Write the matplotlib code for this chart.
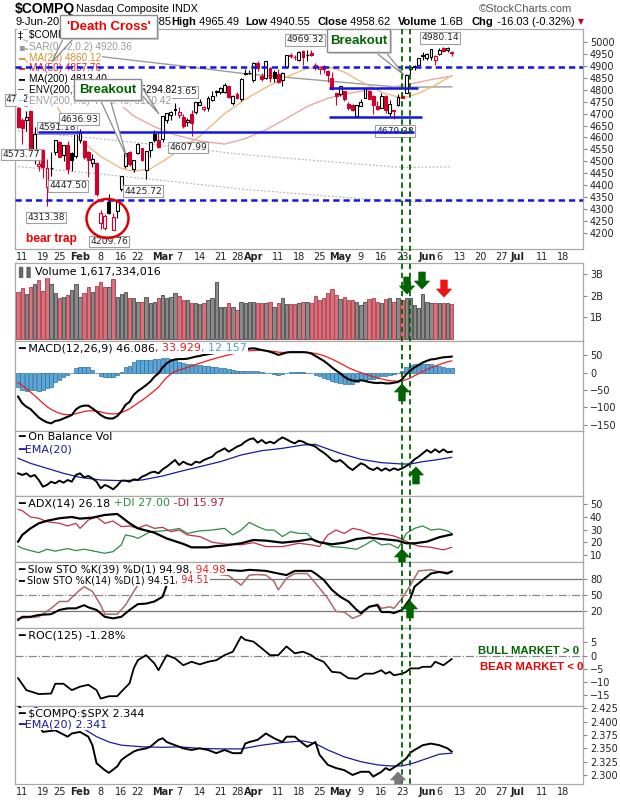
import numpy as np
import pandas as pd
import matplotlib
matplotlib.use("Agg")
import matplotlib.pyplot as plt
from matplotlib.patches import Ellipse, Polygon, Rectangle
from matplotlib.lines import Line2D
from matplotlib.transforms import Affine2D

# ---------------- DATA ----------------
start_date = "2016-01-08"
end_date = "2016-06-09"
axis_end_date = "2016-07-22"
holidays = ["2016-01-18", "2016-02-15", "2016-03-25", "2016-05-30"]

tick_dates = ["2016-01-11", "2016-01-19", "2016-01-25", "2016-02-01", "2016-02-08", "2016-02-16",
              "2016-02-22", "2016-03-01", "2016-03-07", "2016-03-14", "2016-03-21", "2016-03-28",
              "2016-04-01", "2016-04-11", "2016-04-18", "2016-04-25", "2016-05-02", "2016-05-09",
              "2016-05-16", "2016-05-23", "2016-06-01", "2016-06-06", "2016-06-13", "2016-06-20",
              "2016-06-27", "2016-07-01", "2016-07-11", "2016-07-18"]
tick_labels = ["11", "19", "25", "Feb", "8", "16", "22", "Mar", "7", "14", "21", "28", "Apr", "11",
               "18", "25", "May", "9", "16", "23", "Jun", "6", "13", "20", "27", "Jul", "11", "18"]
month_names = ["Feb", "Mar", "Apr", "May", "Jun", "Jul"]

prev_close = 4689.43
opens = [4722.0, 4673.4, 4673.0, 4713.0, 4530.0, 4480.0, 4548.0, 4390.0, 4470.0, 4540.0,
         4580.0, 4527.0, 4567.0, 4535.0, 4524.0, 4590.0, 4585.0, 4540.0, 4492.0, 4493.0,
         4240.0, 4220.0, 4330.0, 4212.0, 4290.0, 4384.0, 4480.0, 4540.0, 4466.0, 4535.0,
         4555.0, 4465.0, 4549.0, 4615.0, 4588.0, 4592.0, 4674.0, 4694.0, 4719.0, 4695.0,
         4686.0, 4663.0, 4698.0, 4705.0, 4738.0, 4720.0, 4723.0, 4758.0, 4790.0, 4791.0,
         4792.0, 4815.0, 4745.0, 4781.0, 4760.0, 4868.0, 4870.0, 4842.0, 4915.0, 4860.0,
         4852.0, 4894.0, 4876.0, 4868.0, 4842.0, 4896.0, 4944.0, 4939.0, 4927.0, 4965.0,
         4946.0, 4954.0, 4895.0, 4889.0, 4902.0, 4880.0, 4850.0, 4785.0, 4783.0, 4795.0,
         4741.0, 4738.0, 4690.0, 4733.0, 4767.0, 4797.0, 4776.0, 4732.0, 4724.0, 4773.0,
         4704.0, 4714.0, 4735.0, 4774.0, 4788.0, 4887.0, 4897.0, 4906.0, 4943.0, 4932.0,
         4940.0, 4925.0, 4951.0, 4976.0, 4969.0, 4955.85]
highs = [4742.6, 4683.0, 4710.0, 4716.0, 4642.0, 4510.0, 4551.0, 4509.0, 4538.0, 4591.18,
         4586.0, 4570.0, 4584.0, 4540.0, 4614.0, 4636.93, 4590.0, 4541.0, 4531.0, 4496.0,
         4293.0, 4280.0, 4364.0, 4282.0, 4340.0, 4436.0, 4535.0, 4545.0, 4505.0, 4575.0,
         4557.0, 4545.0, 4582.5, 4630.0, 4623.0, 4689.6, 4704.0, 4710.0, 4743.0, 4727.0,
         4700.0, 4680.0, 4717.0, 4748.5, 4760.0, 4734.0, 4775.0, 4795.0, 4801.0, 4812.0,
         4831.0, 4816.0, 4779.0, 4790.0, 4849.0, 4886.0, 4882.0, 4916.0, 4920.0, 4872.0,
         4921.0, 4897.0, 4885.0, 4886.0, 4876.0, 4948.0, 4955.0, 4946.0, 4962.0, 4966.0,
         4969.32, 4966.0, 4913.0, 4900.0, 4904.0, 4883.0, 4874.0, 4789.0, 4818.0, 4796.0,
         4750.0, 4739.0, 4736.5, 4763.0, 4810.0, 4798.0, 4777.0, 4754.0, 4787.0, 4777.0,
         4756.0, 4714.0, 4781.0, 4791.0, 4866.0, 4902.0, 4903.0, 4934.0, 4958.0, 4956.0,
         4971.5, 4945.0, 4976.0, 4979.0, 4980.14, 4965.49]
lows = [4637.9, 4573.77, 4628.0, 4513.0, 4490.0, 4460.0, 4430.0, 4313.38, 4436.0, 4525.0,
        4517.0, 4500.0, 4447.5, 4460.0, 4512.0, 4578.0, 4510.0, 4434.0, 4476.0, 4352.0,
        4213.8, 4212.0, 4277.0, 4209.76, 4260.0, 4374.0, 4470.0, 4481.0, 4456.0, 4530.0,
        4500.0, 4425.72, 4516.0, 4579.0, 4557.0, 4579.0, 4661.0, 4675.0, 4693.0, 4683.0,
        4638.0, 4648.0, 4607.99, 4700.0, 4735.0, 4710.0, 4711.0, 4753.0, 4776.0, 4784.0,
        4787.0, 4767.0, 4735.0, 4762.0, 4755.0, 4861.0, 4866.0, 4833.0, 4880.0, 4839.0,
        4845.0, 4835.0, 4835.0, 4831.0, 4818.0, 4894.0, 4936.0, 4926.0, 4922.0, 4904.0,
        4921.0, 4941.0, 4885.0, 4867.0, 4872.0, 4834.0, 4798.0, 4738.0, 4776.0, 4752.0,
        4715.0, 4711.0, 4684.0, 4732.0, 4764.0, 4760.0, 4700.0, 4714.0, 4724.0, 4703.0,
        4692.0, 4679.38, 4733.0, 4765.0, 4786.0, 4868.0, 4885.0, 4905.0, 4925.0, 4925.0,
        4925.0, 4905.0, 4948.0, 4958.0, 4959.0, 4940.55]
closes = [4643.63, 4637.99, 4685.92, 4526.06, 4615.00, 4488.42, 4476.95, 4471.69, 4472.06, 4591.18,
          4518.49, 4567.67, 4468.17, 4506.68, 4613.95, 4620.37, 4516.95, 4504.24, 4509.56, 4363.14,
          4283.59, 4268.76, 4283.75, 4266.84, 4337.51, 4435.96, 4534.06, 4487.54, 4504.43, 4570.61,
          4503.58, 4542.61, 4582.20, 4590.47, 4557.95, 4689.60, 4703.42, 4707.42, 4717.02, 4708.25,
          4648.82, 4674.38, 4662.16, 4748.47, 4750.28, 4728.67, 4763.97, 4774.99, 4795.65, 4808.87,
          4821.66, 4768.86, 4773.50, 4766.79, 4846.62, 4869.29, 4869.85, 4914.54, 4891.80, 4843.93,
          4920.72, 4848.37, 4850.69, 4833.40, 4872.09, 4947.42, 4945.89, 4938.22, 4960.02, 4940.33,
          4948.13, 4945.89, 4906.23, 4895.79, 4888.28, 4863.14, 4805.29, 4775.36, 4817.59, 4763.22,
          4725.64, 4717.09, 4736.16, 4750.21, 4809.88, 4760.69, 4737.33, 4717.68, 4775.46, 4715.73,
          4739.12, 4712.53, 4769.56, 4765.78, 4861.06, 4894.89, 4901.77, 4933.51, 4948.05, 4952.25,
          4971.36, 4942.52, 4968.71, 4961.75, 4974.64, 4958.62]

volume_bn = [2.18, 2.33, 2.07, 2.41, 2.53, 2.72, 2.21, 2.90, 2.53, 2.10,
             1.90, 1.95, 2.03, 2.26, 2.53, 1.92, 2.10, 2.41, 2.15, 2.44,
             2.64, 2.38, 2.38, 2.76, 1.92, 2.07, 2.18, 1.87, 1.87, 1.70,
             1.72, 1.95, 1.64, 1.72, 1.90, 2.03, 1.87, 1.92, 2.10, 1.98,
             1.80, 1.80, 1.64, 1.64, 1.60, 1.64, 1.80, 1.87, 2.64, 1.49,
             1.49, 1.64, 1.49, 1.34, 1.72, 1.67, 1.72, 1.72, 1.64, 1.64,
             1.67, 1.72, 1.49, 1.67, 1.87, 1.61, 1.61, 1.61, 1.64, 1.72,
             1.69, 1.64, 1.98, 1.80, 1.87, 2.10, 2.29, 2.03, 1.83, 1.92,
             1.80, 1.80, 1.72, 1.57, 1.72, 1.83, 1.89, 1.72, 1.64, 1.83,
             1.87, 1.72, 1.87, 1.80, 1.87, 1.87, 1.57, 1.41, 2.07, 1.72,
             1.64, 1.64, 1.67, 1.67, 1.64, 1.62]

ma20_idx = [0, 5, 10, 15, 20, 25, 28, 32, 36, 40, 44, 50, 55, 60, 65, 70, 73, 76, 79, 83, 88, 93, 97, 101, 105]
ma20_val = [4963, 4860, 4713, 4590, 4520, 4470, 4458, 4468, 4510, 4560, 4605, 4700, 4760, 4810, 4855,
            4890, 4897, 4892, 4875, 4835, 4790, 4765, 4785, 4820, 4860]
ma50_idx = [0, 5, 10, 15, 19, 24, 28, 33, 38, 44, 50, 55, 60, 65, 70, 75, 80, 85, 90, 95, 100, 105]
ma50_val = [5020, 4985, 4935, 4870, 4818, 4750, 4690, 4645, 4611, 4585, 4572, 4595, 4632, 4680, 4730,
            4765, 4785, 4800, 4810, 4825, 4843, 4858]
ma200_idx = [0, 20, 40, 54, 70, 85, 93, 105]
ma200_val = [4975, 4940, 4900, 4870, 4845, 4822, 4811, 4813]
env_pcts = [7.0, 10.0]

macd_line = [-69, -88, -98, -105, -117, -129, -137, -143, -146, -139,
             -137, -132, -127, -122, -106, -98, -95, -95, -103, -112,
             -122, -129, -132, -132, -125, -112, -93, -84, -64, -53,
             -45, -36, -26, -12, -2, 15, 27, 34, 38, 39,
             39, 40, 43, 46, 48, 51, 53, 55, 57, 59,
             60, 61, 62, 63, 65, 67, 69, 70, 68, 65,
             63, 60, 56, 51, 54, 58, 59, 59, 59, 59,
             58, 55, 48, 41, 34, 25, 15, 6, -2, -12,
             -19, -23, -24, -22, -24, -27, -29, -30, -29, -31,
             -31, -29, -27, -19, -5, 6, 15, 22, 29, 34,
             38, 39, 42, 44, 45, 46.09]
macd_signal = [-29, -37, -46, -56, -66, -77, -88, -98, -106, -112,
               -117, -120, -121, -121, -118, -115, -112, -110, -110, -111,
               -113, -116, -118, -119, -118, -115, -110, -104, -96, -88,
               -80, -71, -62, -52, -42, -27, -14, -4, 3, 8,
               11, 15, 19, 23, 27, 31, 35, 38, 42, 45,
               48, 51, 54, 57, 59, 61, 63, 64, 64, 64,
               63, 62, 61, 59, 58, 58, 58, 58, 58, 58,
               58, 57, 55, 52, 49, 44, 39, 33, 27, 21,
               14, 9, 4, 0, -4, -8, -12, -15, -18, -21,
               -23, -24, -25, -24, -20, -15, -9, -3, 3, 9,
               14, 19, 23, 27, 31, 33.93]

obv = [40, 35, 40, 30, 35, 20, 0, 5, 15, 10,
       18, 12, 20, 15, 35, 40, 28, 32, 25, 15,
       -5, 5, 0, -8, 3, 18, 18, 15, 22, 20,
       30, 35, 42, 45, 40, 52, 60, 70, 80, 65,
       75, 68, 65, 75, 72, 80, 85, 90, 102, 108,
       115, 105, 112, 120, 125, 135, 142, 145, 132, 140,
       130, 135, 130, 140, 148, 142, 135, 130, 138, 135,
       128, 125, 120, 110, 102, 92, 80, 75, 80, 70,
       58, 50, 60, 70, 65, 55, 50, 57, 48, 55,
       48, 55, 50, 55, 62, 70, 82, 90, 100, 110,
       102, 112, 103, 112, 103, 105]
obv_ema_idx = [0, 3, 7, 11, 15, 20, 25, 30, 35, 39, 44, 49, 54, 59, 64, 69, 72, 73, 78, 83, 88, 93, 95, 98, 101, 105]
obv_ema_val = [85, 70, 55, 40, 28, 20, 18, 20, 32, 45, 60, 75, 95, 108, 115, 125, 127, 122, 100, 82, 72, 68, 68, 75, 80, 88]

adx_idx = [0, 1, 3, 5, 7, 10, 13, 15, 18, 21, 24, 25, 27, 29, 33, 36, 40, 42, 46, 48, 50, 54, 57, 60, 64,
           68, 71, 73, 76, 79, 82, 85, 88, 92, 94, 96, 99, 102, 105]
adx_val = [20.5, 25.8, 31.0, 35.0, 37.0, 39.0, 40.0, 38.7, 39.5, 41.6, 42.4, 40.0, 35.0, 31.0, 27.6, 23.0,
           18.7, 16.0, 16.0, 17.0, 17.4, 19.2, 21.8, 21.3, 19.7, 21.0, 22.6, 20.0, 18.4, 19.7, 22.6, 23.7,
           22.6, 21.3, 19.2, 19.2, 20.5, 24.0, 26.2]
pdi_idx = [0, 1, 3, 5, 7, 9, 12, 14, 16, 19, 21, 23, 25, 26, 28, 29, 32, 35, 37, 39, 41, 44, 47, 50, 52, 54,
           56, 58, 60, 62, 64, 66, 68, 70, 72, 74, 76, 79, 82, 84, 86, 88, 90, 92, 93, 94, 96, 98, 100, 102,
           104, 105]
pdi_val = [17, 15.3, 13.4, 11.8, 14.5, 13, 15, 13.4, 14.5, 12.6, 11.3, 12.6, 18, 25.8, 24.5, 23, 28.4, 29,
           29.7, 31, 27, 29, 29.7, 31, 25.8, 29.7, 35.8, 32.4, 29.7, 29.7, 24.5, 28.4, 27, 27, 20.5, 19.2,
           16.6, 15.8, 14.5, 17.9, 21.8, 17.9, 18.7, 15.3, 20.5, 27, 31, 32.9, 29.7, 30.5, 29, 27.0]
mdi_idx = [0, 1, 3, 5, 7, 10, 12, 14, 15, 17, 19, 21, 23, 25, 27, 29, 31, 33, 35, 37, 39, 41, 44, 47, 50,
           54, 57, 60, 64, 68, 71, 73, 75, 77, 79, 81, 83, 86, 88, 91, 93, 95, 97, 100, 103, 105]
mdi_val = [46, 45, 40, 39, 36.3, 35, 32.9, 35, 31, 37.6, 40, 35, 36.8, 32.4, 32.9, 31, 33.7, 31, 31.8,
           28.4, 29.7, 25.8, 24.5, 20, 18.7, 18, 19.7, 16.6, 16.6, 19.2, 18, 16.6, 25.8, 29.7, 27, 31,
           29.7, 25.8, 27, 25, 22.4, 19.2, 17, 16, 14, 16.0]

sto39_idx = [0, 1, 3, 5, 8, 10, 12, 14, 16, 17, 19, 21, 23, 25, 27, 29, 31, 33, 35, 36, 38, 41, 44, 47,
             50, 54, 56, 60, 63, 65, 67, 71, 72, 74, 76, 78, 80, 82, 83, 85, 87, 88, 90, 91, 93, 95, 96,
             98, 100, 102, 104, 105]
sto39_val = [3, 9, 9, 12.5, 14, 22, 25, 25, 31, 27, 22, 9, 6, 9, 22, 33, 34, 38, 47, 69, 85, 92, 96, 97,
             98, 96, 98, 96, 91, 88, 96, 96, 91, 79, 60, 47, 38, 22, 16, 28, 31, 18, 18, 16, 22, 44, 66,
             79, 91, 94, 91, 95.0]
sto14_idx = [0, 5, 8, 10, 12, 15, 16, 18, 20, 21, 24, 26, 28, 29, 32, 35, 39, 44, 48, 51, 54, 56, 58, 60,
             62, 63, 65, 67, 70, 71, 73, 75, 77, 79, 81, 83, 85, 87, 88, 90, 91, 93, 95, 97, 100, 102, 104, 105]
sto14_val = [6, 9, 25, 38, 38, 60, 66, 57, 31, 14, 14, 31, 57, 69, 80, 90, 88, 92, 90, 87, 69, 88, 89, 88,
             76, 60, 82, 91, 91, 82, 63, 44, 19, 18, 6, 12.5, 28, 33, 25, 28, 25, 44, 69, 96, 98, 94, 93, 94.5]

roc_idx = [0, 2, 5, 8, 9, 11, 13, 15, 17, 19, 20, 22, 24, 25, 27, 28, 29, 31, 33, 34, 36, 38, 40, 42, 44,
           46, 48, 50, 52, 54, 55, 57, 59, 61, 63, 65, 67, 69, 71, 72, 74, 76, 78, 80, 82, 84, 86, 88, 89,
           90, 91, 93, 94, 95, 97, 98, 100, 101, 103, 105]
roc_val = [-8.5, -13, -14.5, -14.3, -10.6, -10.6, -13, -11.7, -11, -13, -16.2, -15.3, -15.3, -13.6, -10.4,
           -4.8, -1.7, 0.2, -2.9, -5.5, 0.2, -1, -3.6, -2.3, -3.3, -2.3, -1.7, 0.2, 1.5, 7.2, 6, 5.3, 2.8,
           0.2, 0.2, 3.5, 0.9, 1.5, 0.2, -1, -2.3, -6.1, -6.4, -8.5, -8.7, -6.8, -6.8, -5.5, -6.8, -6.1,
           -7.4, -6.8, -6.1, -4.8, -4.8, -4.2, -4.2, -2.3, -3.6, -1.28]

ratio_idx = [0, 1, 3, 5, 6, 9, 12, 13, 15, 17, 18, 19, 21, 22, 24, 25, 26, 28, 29, 31, 32, 34, 35, 36, 38,
             40, 42, 44, 46, 48, 50, 52, 54, 55, 56, 58, 60, 62, 64, 65, 67, 69, 70, 72, 73, 75, 77, 79, 81,
             83, 85, 86, 88, 89, 90, 92, 93, 94, 95, 96, 98, 100, 102, 104, 105]
ratio_val = [2.431, 2.422, 2.416, 2.394, 2.381, 2.384, 2.372, 2.378, 2.381, 2.372, 2.356, 2.322, 2.309,
             2.304, 2.316, 2.328, 2.334, 2.344, 2.347, 2.350, 2.353, 2.366, 2.369, 2.362, 2.356, 2.350,
             2.347, 2.350, 2.347, 2.341, 2.347, 2.341, 2.341, 2.359, 2.362, 2.366, 2.378, 2.369, 2.362,
             2.372, 2.372, 2.359, 2.353, 2.362, 2.338, 2.319, 2.313, 2.309, 2.300, 2.306, 2.306, 2.297,
             2.306, 2.313, 2.309, 2.319, 2.325, 2.331, 2.342, 2.347, 2.356, 2.359, 2.356, 2.350, 2.344]
ratio_ema_idx = [0, 3, 10, 15, 19, 22, 25, 30, 35, 39, 44, 49, 54, 59, 64, 69, 72, 75, 79, 83, 87, 90, 93,
                 96, 99, 102, 105]
ratio_ema_val = [2.436, 2.431, 2.409, 2.391, 2.372, 2.362, 2.356, 2.353, 2.352, 2.353, 2.350, 2.349, 2.349,
                 2.356, 2.361, 2.364, 2.359, 2.347, 2.334, 2.325, 2.319, 2.317, 2.317, 2.323, 2.331, 2.339,
                 2.341]

dashed_levels = [4897, 4337]
support_lines = [(4622, 4.8, 95.9), (4807, 75.3, 96.8), (4686, 75.3, 97.8)]
signal_days = [93.05, 94.8]

# ---------------- FIGURE ----------------
W, H = 620.0, 800.0
fig = plt.figure(figsize=(6.2, 8.0), dpi=100)
fig.patch.set_facecolor("white")
PX = Affine2D().scale(1 / W, -1 / H).translate(0, 1) + fig.transFigure
REND = fig.canvas.get_renderer()

hol = pd.to_datetime(holidays)
tdays = pd.bdate_range(start_date, end_date)
tdays = tdays[~tdays.isin(hol)]
fdays = pd.bdate_range(pd.Timestamp(end_date) + pd.Timedelta(days=1), axis_end_date)
all_days = tdays.append(fdays)
n = len(tdays)
x = np.arange(n)
tick_pos = [all_days.get_loc(pd.Timestamp(d)) for d in tick_dates]
XLIM = (-0.75, 136.8)

L, R = 15, 583
SP = "#a8a8a8"
RED = "#d4002c"
HF = ["Liberation Sans", "DejaVu Sans"]
NF = ["Liberation Sans Narrow", "Liberation Sans", "DejaVu Sans"]


def panel(top, bottom, yl, yt=None, ytl=None):
    ax = fig.add_axes([L / W, 1 - bottom / H, (R - L) / W, (bottom - top) / H])
    ax.set_xlim(*XLIM)
    ax.set_ylim(*yl)
    for s in ax.spines.values():
        s.set_color(SP)
        s.set_linewidth(0.9)
    ax.yaxis.tick_right()
    ax.tick_params(axis="y", labelsize=7, length=3, color="#888", labelcolor="#222", pad=2)
    ax.tick_params(axis="x", length=0, labelbottom=False)
    if yt is None:
        ax.set_yticks([])
    else:
        ax.set_yticks(yt)
        if ytl is not None:
            ax.set_yticklabels(ytl)
    return ax


def xlabels(ax):
    ax.set_xticks(tick_pos)
    ax.set_xticklabels(tick_labels)
    ax.tick_params(axis="x", labelbottom=True, labelsize=7, pad=2, labelcolor="#222")
    for t in ax.get_xticklabels():
        if t.get_text() in month_names:
            t.set_fontweight("bold")


def seg_text(ax, x0, y, parts, size=8.0, family="DejaVu Sans", z=6, bg=True):
    xx = x0
    for s, c, w in parts:
        kw = dict(bbox=dict(boxstyle="square,pad=0.06", fc="white", ec="none")) if bg else {}
        t = ax.text(xx, y, s, transform=PX, color=c, fontsize=size, fontweight=w, family=family,
                    va="center", ha="left", clip_on=False, zorder=z, **kw)
        xx = t.get_window_extent(renderer=REND).x1
    return xx


def main_leg(y, icon, s, color):
    axm.text(18, y, icon, transform=PX, color=color, fontsize=7, family="DejaVu Sans", va="center",
             ha="left", clip_on=False, zorder=6,
             bbox=dict(boxstyle="square,pad=0.06", fc="white", ec="none"))
    axm.text(29, y, s, transform=PX, color=color, fontsize=7.2, family=HF, va="center", ha="left",
             clip_on=False, zorder=6, bbox=dict(boxstyle="square,pad=0.08", fc="white", ec="none"))


# ---------- main price panel ----------
axm = panel(29, 249, (4131, 5056), np.arange(4200, 5001, 50))
xlabels(axm)
ma200 = np.array(ma200_val, float)
for p in env_pcts:
    axm.plot(ma200_idx, ma200 * (1 - p / 100), color="#b8b8b8", lw=0.9, ls=(0, (1.5, 1.5)), zorder=2)
axm.plot(ma200_idx, ma200_val, color="#9c9c9c", lw=1.0, zorder=2)
axm.plot(ma50_idx, ma50_val, color="#e8a8a8", lw=1.0, zorder=2)
axm.plot(ma20_idx, ma20_val, color="#ebbb82", lw=1.0, zorder=2)

o = np.array(opens); c = np.array(closes); hgh = np.array(highs); low = np.array(lows)
prev = np.concatenate([[prev_close], c[:-1]])
down = c < prev
cols = np.where(down, RED, "#000000")
axm.vlines(x, low, hgh, colors=cols, lw=0.8, zorder=3)
blo = np.minimum(o, c)
bh = np.maximum(np.abs(c - o), 1.2)
faces = [cols[i] if c[i] < o[i] else "white" for i in range(n)]
axm.bar(x, bh, bottom=blo, width=0.7, color=faces, edgecolor=cols, linewidth=0.8, zorder=4)

for lv in dashed_levels:
    axm.axhline(lv, color="#1414e6", lw=1.8, ls=(0, (2.5, 1.6)), zorder=7)
for lv, a, b in support_lines:
    axm.hlines(lv, a, b, color="#1414e6", lw=1.8, zorder=7)

# value labels
vlabels = [("4969.32", 305, 40), ("4980.14", 440, 38), ("4679.38", 395, 131), ("4607.99", 188, 147.5),
           ("4425.72", 143, 191), ("4209.76", 109, 241.5), ("4313.38", 46, 217.5), ("4447.50", 68, 186),
           ("4573.77", 21, 154.5), ("4591.18", 57, 128), ("4636.93", 79, 119), ("4742.60", 25, 100),
           ("4743.65", 178, 92)]
for s, cx, cy in vlabels:
    axm.text(cx, cy, s, transform=PX, ha="center", va="center", fontsize=6.6, color="#222",
             family="DejaVu Sans", zorder=5, clip_on=False,
             bbox=dict(boxstyle="square,pad=0.15", fc="white", ec="#a0a0a0", lw=0.8))

# legend of main panel
main_leg(35, "\u2021", "\\$COMPQ (Daily)  4958.62", "#000")
main_leg(46.7, "\u25aa", "SAR(0.02,0.2) 4920.36", "#9a9a9a")
main_leg(57.7, "\u2501", "MA(20) 4860.12", "#d8902a")
main_leg(68.3, "\u2501", "MA(50) 4857.76", "#d81e3c")
main_leg(79, "\u2501", "MA(200) 4813.40", "#000")
main_leg(90, "\u2504", "ENV(200,10.0) 4332.06, 5294.82", "#000")
main_leg(101, "\u2504", "ENV(200,7.0) 4476.46, 5150.42", "#9a9a9a")

# header
fig.text(15, 9, "\\$COMPQ", transform=PX, fontsize=10, fontweight="bold", family=HF, va="center", zorder=4)
fig.text(76, 9, "Nasdaq Composite INDX", transform=PX, fontsize=7.8, family=HF, va="center", zorder=4)
fig.text(572, 9, "\u00a9StockCharts.com", transform=PX, fontsize=8, family=HF, color="#555", va="center",
         ha="right", zorder=4)
hdr = [("9-Jun-2016", 16, None), ("Open", 100, " 4955.85"), ("High", 171, " 4965.49"),
       ("Low", 245, " 4940.55"), ("Close", 317, " 4958.62"), ("Volume", 398, " 1.6B"),
       ("Chg", 472, " -16.03 (-0.32%)")]
for lab, hx, val in hdr:
    if val is None:
        fig.text(hx, 22, lab, transform=PX, fontsize=8, family=HF, va="center", zorder=4)
    else:
        t = fig.text(hx, 22, lab, transform=PX, fontsize=8, fontweight="bold", family=HF, va="center", zorder=4)
        x1 = t.get_window_extent(renderer=REND).x1
        fig.text(x1, 22, val, transform=PX, fontsize=8, family=HF, va="center", zorder=4)
fig.text(578, 22, "\u25bc", transform=PX, fontsize=5.5, color="#c00020", family="DejaVu Sans",
         va="center", zorder=4)


def pointer(pts):
    fig.add_artist(Polygon(pts, closed=True, transform=PX, fc="white", ec="#8a8a8a", lw=0.9, zorder=8))


def callout(x0, y0, w, h, s, color, size):
    fig.add_artist(Rectangle((x0 + 1.5, y0 + 1.5), w, h, transform=PX, fc="#d0d0d0", ec="none", zorder=8.5))
    fig.add_artist(Rectangle((x0, y0), w, h, transform=PX, fc="white", ec="#8a8a8a", lw=1.0, zorder=9))
    fig.text(x0 + w / 2, y0 + h / 2 + 0.5, s, transform=PX, ha="center", va="center", color=color,
             fontsize=size, fontweight="bold", family=NF, zorder=10)


pointer([(64, 37), (75, 37), (52, 62)])
pointer([(100, 99), (110, 99), (127, 158)])
pointer([(140, 84), (140, 93), (159, 114)])
pointer([(374, 51), (385, 51), (404, 75)])
callout(60, 15, 97, 23, "'Death Cross'", "#ee0000", 9.5)
callout(74, 79, 67, 21, "Breakout", "#006400", 9.5)
callout(327, 29, 63, 23, "Breakout", "#006400", 9.5)
fig.add_artist(Ellipse((107.5, 218.5), 42, 39, transform=PX, fc="none", ec="#e00000", lw=1.8, zorder=8))
fig.text(26, 239, "bear trap", transform=PX, ha="left", va="center", color="#ee0000", fontsize=8.6,
         fontweight="bold", family=NF, zorder=8)

# ---------- volume ----------
axv = panel(263, 341, (-0.09, 3.5), [1, 2, 3], ["1B", "2B", "3B"])
vface = np.where(down, "#d5737c", "#8a8a8a")
vedge = np.where(down, "#b23a48", "#4a4a4a")
axv.bar(x, volume_bn, width=0.82, color=vface, edgecolor=vedge, linewidth=0.6, zorder=3)
seg_text(axv, 18, 272, [("\u258c\u258c", "#666", "normal"), ("Volume 1,617,334,016", "#000", "normal")])

# ---------- MACD ----------
axd = panel(341, 431, (-168, 91), [50, 0, -50, -100, -150])
hist = np.array(macd_line) - np.array(macd_signal)
axd.bar(x, hist, width=0.88, color="#5ba7d8", edgecolor="#2a6d9c", linewidth=0.5, zorder=2)
axd.plot(x, macd_signal, color="#ee1c1c", lw=0.9, zorder=3)
axd.plot(x, macd_line, color="#000", lw=1.5, zorder=4)
seg_text(axd, 18, 348.5, [("\u2501 MACD(12,26,9) 46.086", "#000", "normal"), (", 33.929", "#ee1c1c", "normal"),
                          (", 12.157", "#4a9fd4", "normal")])

# ---------- OBV ----------
axo = panel(431, 496, (-28, 167))
axo.plot(obv_ema_idx, obv_ema_val, color="#1a1a9a", lw=0.9, zorder=2)
axo.plot(x, obv, color="#000", lw=1.4, zorder=3)
seg_text(axo, 18, 437.5, [("\u2501 On Balance Vol", "#000", "normal")])
seg_text(axo, 18, 449, [("\u2501EMA(20)", "#1a1a9a", "normal")])

# ---------- ADX ----------
axa = panel(496, 562, (4.4, 56.6), [10, 20, 30, 40, 50])
axa.plot(pdi_idx, pdi_val, color="#2f8a44", lw=0.9, zorder=2)
axa.plot(mdi_idx, mdi_val, color="#c03048", lw=0.9, zorder=2)
axa.plot(adx_idx, adx_val, color="#000", lw=1.6, zorder=3)
seg_text(axa, 18, 503.5, [("\u2501 ADX(14) 26.18", "#000", "normal"), (" +DI 27.00", "#2f8a44", "normal"),
                          (" -DI 15.97", "#b02040", "normal")])

# ---------- Slow STO ----------
axs = panel(562, 628, (-12.2, 112.8), [20, 50, 80])
axs.axhline(80, color="#777", lw=0.9, zorder=1)
axs.axhline(20, color="#777", lw=0.9, zorder=1)
axs.axhline(50, color="#888", lw=0.9, ls="-.", zorder=1)
axs.plot(sto14_idx, sto14_val, color="#a86a6a", lw=1.1, zorder=2)
axs.plot(sto39_idx, sto39_val, color="#000", lw=1.5, zorder=3)
seg_text(axs, 18, 569.5, [("\u2501 Slow STO %K(39) %D(1) 94.98", "#000", "normal"), (", 94.98", "#ee1c1c", "normal")],
         size=7.6)
seg_text(axs, 18, 580.5, [("\u2501 Slow STO %K(14) %D(1) 94.51", "#000", "normal"), (", 94.51", "#ee1c1c", "normal")],
         size=7.0)

# ---------- ROC ----------
axr = panel(628, 706, (-19.0, 10.45), [5, 0, -5, -10, -15])
axr.axhline(0, color="#888", lw=0.9, ls="-.", zorder=1)
axr.plot(roc_idx, roc_val, color="#000", lw=1.3, zorder=3)
seg_text(axr, 18, 636, [("\u2501 ROC(125) -1.28%", "#000", "normal")])
axr.text(579, 651, "BULL MARKET > 0", transform=PX, ha="right", va="center", color="#006400",
         fontsize=8.2, fontweight="bold", family=NF, clip_on=False, zorder=6)
axr.text(584, 667, "BEAR MARKET < 0", transform=PX, ha="right", va="center", color="#ee0000",
         fontsize=8.2, fontweight="bold", family=NF, clip_on=False, zorder=6)

# ---------- ratio ----------
axq = panel(706, 784, (2.283, 2.4297), [2.300, 2.325, 2.350, 2.375, 2.400, 2.425],
            ["2.300", "2.325", "2.350", "2.375", "2.400", "2.425"])
xlabels(axq)
axq.plot(ratio_ema_idx, ratio_ema_val, color="#1a1a9a", lw=0.9, zorder=2)
axq.plot(ratio_idx, ratio_val, color="#000", lw=1.4, zorder=3)
seg_text(axq, 18, 713.5, [("\u2501 \\$COMPQ:\\$SPX 2.344", "#000", "normal")])
seg_text(axq, 18, 724.5, [("\u2501EMA(20) 2.341", "#1a1a9a", "normal")])

# ---------- signal verticals and arrows ----------
for d in signal_days:
    xp = axm.transData.transform((d, 4500))[0]
    fig.add_artist(Line2D([xp, xp], [29, 784], transform=PX, color="#006400", lw=1.3,
                          ls=(0, (3, 2)), zorder=15))


def block_arrow(cx, y0, y1, color, shaft=6.5, head=15, head_len=8):
    d = 1 if y1 > y0 else -1
    hy = y1 - d * head_len
    pts = [(cx - shaft / 2, y0), (cx + shaft / 2, y0), (cx + shaft / 2, hy), (cx + head / 2, hy),
           (cx, y1), (cx - head / 2, hy), (cx - shaft / 2, hy)]
    fig.add_artist(Polygon(pts, closed=True, transform=PX, fc=color, ec=color, lw=0.5, zorder=16))


G = "#006400"
block_arrow(407, 277, 294, G)
block_arrow(422, 272, 289, G)
block_arrow(444, 280, 297, "#ee1111")
block_arrow(402, 401, 384, G)
block_arrow(416, 484, 467, G)
block_arrow(402, 562, 549, G)
block_arrow(410, 618, 601, G)
block_arrow(398, 784, 772, "#777777")

fig.savefig("out.png", dpi=100, facecolor="white")
